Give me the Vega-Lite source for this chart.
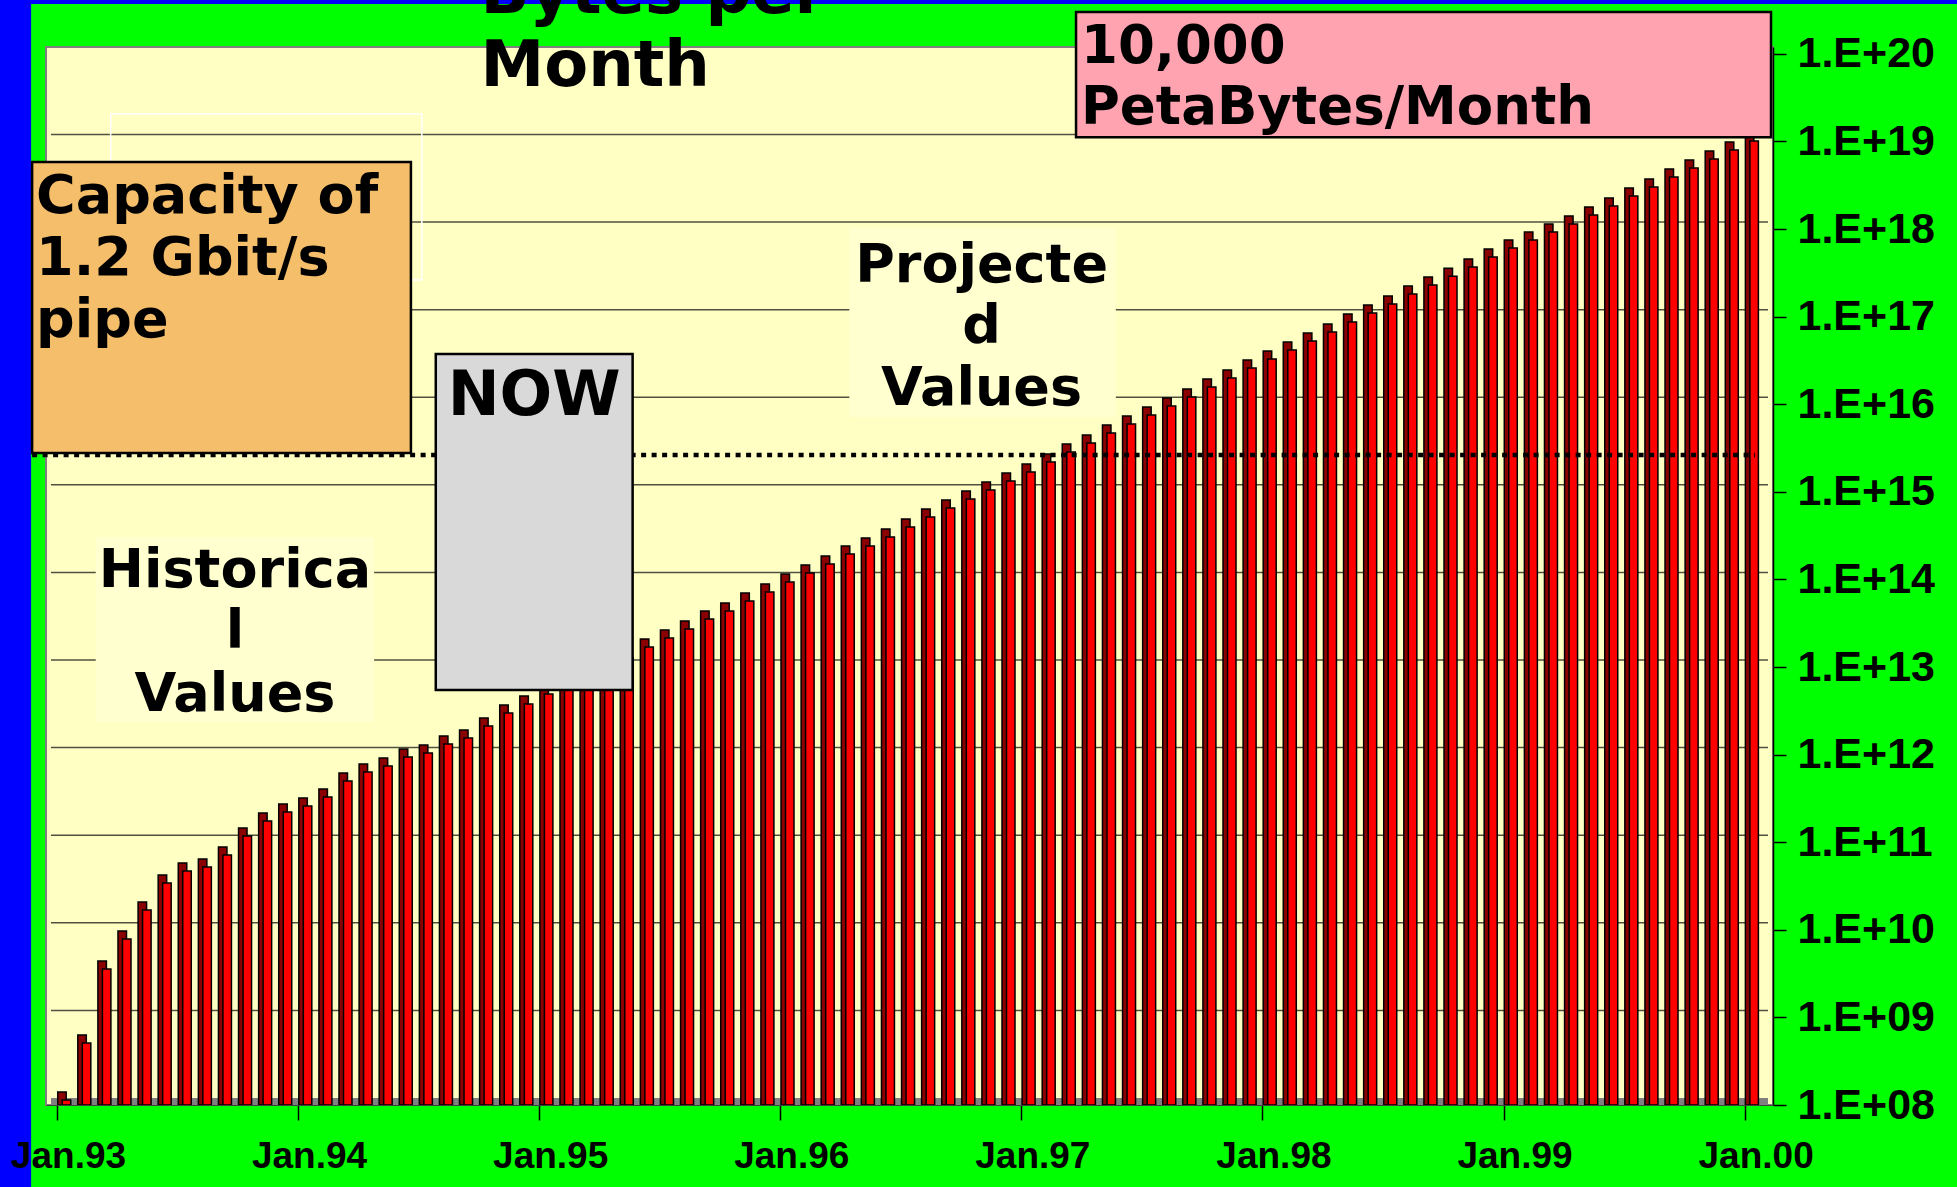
{
  "$schema": "https://vega.github.io/schema/vega-lite/v6.json",
  "width": 1727,
  "height": 1058,
  "autosize": {"type": "none"},
  "padding": {"left": 46, "top": 47, "right": 184, "bottom": 82},
  "background": "#00ff00",
  "config": {
    "view": {"fill": "#ffffc4", "stroke": "#808080", "strokeWidth": 2}
  },
  "datasets": {
    "bars": [
      {"month": "1993-01", "i": 0, "v": 1.14e8},
      {"month": "1993-02", "i": 1, "v": 5.1e8},
      {"month": "1993-03", "i": 2, "v": 3.57e9},
      {"month": "1993-04", "i": 3, "v": 7.85e9},
      {"month": "1993-05", "i": 4, "v": 1.68e10},
      {"month": "1993-06", "i": 5, "v": 3.42e10},
      {"month": "1993-07", "i": 6, "v": 4.69e10},
      {"month": "1993-08", "i": 7, "v": 5.21e10},
      {"month": "1993-09", "i": 8, "v": 7.14e10},
      {"month": "1993-10", "i": 9, "v": 1.18e11},
      {"month": "1993-11", "i": 10, "v": 1.75e11},
      {"month": "1993-12", "i": 11, "v": 2.21e11},
      {"month": "1994-01", "i": 12, "v": 2.59e11},
      {"month": "1994-02", "i": 13, "v": 3.28e11},
      {"month": "1994-03", "i": 14, "v": 5.0e11},
      {"month": "1994-04", "i": 15, "v": 6.33e11},
      {"month": "1994-05", "i": 16, "v": 7.41e11},
      {"month": "1994-06", "i": 17, "v": 9.39e11},
      {"month": "1994-07", "i": 18, "v": 1.04e12},
      {"month": "1994-08", "i": 19, "v": 1.32e12},
      {"month": "1994-09", "i": 20, "v": 1.55e12},
      {"month": "1994-10", "i": 21, "v": 2.12e12},
      {"month": "1994-11", "i": 22, "v": 2.99e12},
      {"month": "1994-12", "i": 23, "v": 3.78e12},
      {"month": "1995-01", "i": 24, "v": 4.92e12},
      {"month": "1995-02", "i": 25, "v": 6.23e12},
      {"month": "1995-03", "i": 26, "v": 7.89e12},
      {"month": "1995-04", "i": 27, "v": 1.0e13},
      {"month": "1995-05", "i": 28, "v": 1.27e13},
      {"month": "1995-06", "i": 29, "v": 1.69e13},
      {"month": "1995-07", "i": 30, "v": 2.14e13},
      {"month": "1995-08", "i": 31, "v": 2.72e13},
      {"month": "1995-09", "i": 32, "v": 3.53e13},
      {"month": "1995-10", "i": 33, "v": 4.36e13},
      {"month": "1995-11", "i": 34, "v": 5.66e13},
      {"month": "1995-12", "i": 35, "v": 7.18e13},
      {"month": "1996-01", "i": 36, "v": 9.34e13},
      {"month": "1996-02", "i": 37, "v": 1.18e14},
      {"month": "1996-03", "i": 38, "v": 1.5e14},
      {"month": "1996-04", "i": 39, "v": 1.95e14},
      {"month": "1996-05", "i": 40, "v": 2.4e14},
      {"month": "1996-06", "i": 41, "v": 3.05e14},
      {"month": "1996-07", "i": 42, "v": 3.96e14},
      {"month": "1996-08", "i": 43, "v": 5.15e14},
      {"month": "1996-09", "i": 44, "v": 6.53e14},
      {"month": "1996-10", "i": 45, "v": 8.28e14},
      {"month": "1996-11", "i": 46, "v": 1.05e15},
      {"month": "1996-12", "i": 47, "v": 1.33e15},
      {"month": "1997-01", "i": 48, "v": 1.68e15},
      {"month": "1997-02", "i": 49, "v": 2.19e15},
      {"month": "1997-03", "i": 50, "v": 2.84e15},
      {"month": "1997-04", "i": 51, "v": 3.61e15},
      {"month": "1997-05", "i": 52, "v": 4.69e15},
      {"month": "1997-06", "i": 53, "v": 5.94e15},
      {"month": "1997-07", "i": 54, "v": 7.53e15},
      {"month": "1997-08", "i": 55, "v": 9.53e15},
      {"month": "1997-09", "i": 56, "v": 1.21e16},
      {"month": "1997-10", "i": 57, "v": 1.57e16},
      {"month": "1997-11", "i": 58, "v": 1.99e16},
      {"month": "1997-12", "i": 59, "v": 2.59e16},
      {"month": "1998-01", "i": 60, "v": 3.28e16},
      {"month": "1998-02", "i": 61, "v": 4.16e16},
      {"month": "1998-03", "i": 62, "v": 5.26e16},
      {"month": "1998-04", "i": 63, "v": 6.67e16},
      {"month": "1998-05", "i": 64, "v": 8.67e16},
      {"month": "1998-06", "i": 65, "v": 1.1e17},
      {"month": "1998-07", "i": 66, "v": 1.39e17},
      {"month": "1998-08", "i": 67, "v": 1.81e17},
      {"month": "1998-09", "i": 68, "v": 2.3e17},
      {"month": "1998-10", "i": 69, "v": 2.9e17},
      {"month": "1998-11", "i": 70, "v": 3.68e17},
      {"month": "1998-12", "i": 71, "v": 4.79e17},
      {"month": "1999-01", "i": 72, "v": 6.07e17},
      {"month": "1999-02", "i": 73, "v": 7.48e17},
      {"month": "1999-03", "i": 74, "v": 9.25e17},
      {"month": "1999-04", "i": 75, "v": 1.14e18},
      {"month": "1999-05", "i": 76, "v": 1.45e18},
      {"month": "1999-06", "i": 77, "v": 1.83e18},
      {"month": "1999-07", "i": 78, "v": 2.38e18},
      {"month": "1999-08", "i": 79, "v": 3.01e18},
      {"month": "1999-09", "i": 80, "v": 3.93e18},
      {"month": "1999-10", "i": 81, "v": 4.97e18},
      {"month": "1999-11", "i": 82, "v": 6.3e18},
      {"month": "1999-12", "i": 83, "v": 7.98e18},
      {"month": "2000-01", "i": 84, "v": 1.01e19}
    ],
    "shapes": [
      {"kind": "edge", "i": -3, "i2": -1.287, "v": 1e7, "v2": 1e21},
      {"kind": "edge", "i": -3, "i2": 100, "v": 3.7e20, "v2": 1e21},
      {"kind": "floor", "i": -0.297, "i2": 85.163, "v": 1e8, "v2": 1.2e8},
      {"kind": "outline", "i": 2.672, "i2": 18.161, "v": 2.62e17, "v2": 2.06e19},
      {"kind": "capacity", "i": -1.237, "i2": 17.617, "v": 2.77e15, "v2": 5.82e18},
      {"kind": "now", "i": 18.854, "i2": 28.652, "v": 5.46e12, "v2": 3.74e16},
      {"kind": "pink", "i": 50.722, "i2": 85.313, "v": 1.12e19, "v2": 3.0e20},
      {"kind": "note", "i": 1.93, "i2": 15.786, "v": 2.36e12, "v2": 3.05e14},
      {"kind": "note", "i": 39.44, "i2": 52.702, "v": 7.14e15, "v2": 1.03e18}
    ],
    "grid": [
      {"i": -0.297, "i2": 85.163, "v": 1e9},
      {"i": -0.297, "i2": 85.163, "v": 1e10},
      {"i": -0.297, "i2": 85.163, "v": 1e11},
      {"i": -0.297, "i2": 85.163, "v": 1e12},
      {"i": -0.297, "i2": 85.163, "v": 1e13},
      {"i": -0.297, "i2": 85.163, "v": 1e14},
      {"i": -0.297, "i2": 85.163, "v": 1e15},
      {"i": -0.297, "i2": 85.163, "v": 1e16},
      {"i": -0.297, "i2": 85.163, "v": 1e17},
      {"i": -0.297, "i2": 85.163, "v": 1e18},
      {"i": -0.297, "i2": 85.163, "v": 1e19}
    ],
    "capline": [
      {"i": -1.237, "i2": 84.52, "v": 2.63e15}
    ],
    "texts": [
      {"g": "title", "t": "Bytes per", "i": 21.081, "v": 2.92e20},
      {"g": "title", "t": "Month", "i": 21.081, "v": 4.29e19},
      {"g": "cap", "t": "Capacity of", "i": -1.039, "v": 1.52e18},
      {"g": "cap", "t": "1.2 Gbit/s", "i": -1.039, "v": 2.99e17},
      {"g": "cap", "t": "pipe", "i": -1.039, "v": 5.85e16},
      {"g": "now", "t": "NOW", "i": 23.753, "v": 7.53e15},
      {"g": "pink", "t": "10,000", "i": 50.97, "v": 7.85e19},
      {"g": "pink", "t": "PetaBytes/Month", "i": 50.97, "v": 1.58e19},
      {"g": "note", "t": "Historica", "i": 8.858, "v": 8.19e13},
      {"g": "note", "t": "l", "i": 8.858, "v": 1.65e13},
      {"g": "note", "t": "Values", "i": 8.858, "v": 3.15e12},
      {"g": "note", "t": "Projecte", "i": 46.022, "v": 2.48e17},
      {"g": "note", "t": "d", "i": 46.022, "v": 5.0e16},
      {"g": "note", "t": "Values", "i": 46.022, "v": 9.79e15}
    ]
  },
  "encoding": {
    "x": {
      "field": "i", "type": "quantitative",
      "scale": {"domain": [-0.297, 85.163], "nice": false, "zero": false},
      "axis": {
        "title": null, "values": [0, 12, 24, 36, 48, 60, 72, 84],
        "labelExpr": "'Jan.' + slice('0' + ((93 + datum.value / 12) % 100), -2)",
        "labelFont": "Liberation Sans", "labelFontWeight": "bold", "labelFontSize": 37,
        "labelColor": "#000000", "labelOffset": 11, "labelPadding": 47, "labelBaseline": "alphabetic",
        "labelFlush": false, "labelOverlap": false, "labelBound": false,
        "tickSize": 15, "tickWidth": 1.5, "tickColor": "#000000",
        "domainColor": "#404040", "domainWidth": 1, "grid": false, "zindex": 1
      }
    },
    "y": {
      "field": "v", "type": "quantitative",
      "scale": {"type": "log", "domain": [100000000, 1.197e20], "nice": false},
      "axis": {
        "title": null, "orient": "right",
        "values": [1e8, 1e9, 1e10, 1e11, 1e12, 1e13, 1e14, 1e15, 1e16, 1e17, 1e18, 1e19, 1e20],
        "labelExpr": "'1.E+' + (round(log(datum.value) / LN10) < 10 ? '0' : '') + round(log(datum.value) / LN10)",
        "labelFont": "Liberation Sans", "labelFontWeight": "bold", "labelFontSize": 43,
        "labelColor": "#000000", "labelPadding": 11, "labelFlush": false, "labelOverlap": false, "labelBound": false,
        "tickSize": 13, "tickWidth": 1.5, "tickColor": "#000000",
        "domainColor": "#000000", "domainWidth": 1.5, "grid": false
      }
    }
  },
  "layer": [
    {
      "data": {"name": "shapes"},
      "transform": [{"filter": "datum.kind == 'edge'"}],
      "mark": {"type": "rect", "fill": "#0000ff", "strokeWidth": 0},
      "encoding": {"x2": {"field": "i2"}, "y2": {"field": "v2"}}
    },
    {
      "data": {"name": "shapes"},
      "transform": [{"filter": "datum.kind == 'floor'"}],
      "mark": {"type": "rect", "fill": "#808080", "strokeWidth": 0},
      "encoding": {"x2": {"field": "i2"}, "y2": {"field": "v2"}}
    },
    {
      "data": {"name": "grid"},
      "mark": {"type": "rule", "color": "#505040", "strokeWidth": 1.5, "yOffset": -7},
      "encoding": {"x2": {"field": "i2"}}
    },
    {
      "data": {"name": "bars"},
      "mark": {"type": "bar", "width": 8.5, "xOffset": 5, "yOffset": -8, "fill": "#8b0000", "stroke": "#000000", "strokeWidth": 1.5},
      "encoding": {"y2": {"datum": 100000000}}
    },
    {
      "data": {"name": "bars"},
      "mark": {"type": "bar", "width": 8.5, "xOffset": 9.5, "fill": "#ff0000", "stroke": "#000000", "strokeWidth": 1.5},
      "encoding": {"y2": {"datum": 100000000}}
    },
    {
      "data": {"name": "capline"},
      "mark": {"type": "rule", "color": "#000000", "strokeWidth": 4.5, "strokeDash": [5, 5.5]},
      "encoding": {"x2": {"field": "i2"}}
    },
    {
      "data": {"name": "shapes"},
      "transform": [{"filter": "datum.kind == 'outline'"}],
      "mark": {"type": "rect", "fillOpacity": 0, "stroke": "#ffffff", "strokeWidth": 1.5},
      "encoding": {"x2": {"field": "i2"}, "y2": {"field": "v2"}}
    },
    {
      "data": {"name": "shapes"},
      "transform": [{"filter": "datum.kind == 'note'"}],
      "mark": {"type": "rect", "fill": "#ffffd0", "strokeWidth": 0},
      "encoding": {"x2": {"field": "i2"}, "y2": {"field": "v2"}}
    },
    {
      "data": {"name": "shapes"},
      "transform": [{"filter": "datum.kind == 'capacity'"}],
      "mark": {"type": "rect", "fill": "#f4be6b", "stroke": "#000000", "strokeWidth": 2.5},
      "encoding": {"x2": {"field": "i2"}, "y2": {"field": "v2"}}
    },
    {
      "data": {"name": "shapes"},
      "transform": [{"filter": "datum.kind == 'now'"}],
      "mark": {"type": "rect", "fill": "#d9d9d9", "stroke": "#000000", "strokeWidth": 2.5},
      "encoding": {"x2": {"field": "i2"}, "y2": {"field": "v2"}}
    },
    {
      "data": {"name": "shapes"},
      "transform": [{"filter": "datum.kind == 'pink'"}],
      "mark": {"type": "rect", "fill": "#ffa3b1", "stroke": "#000000", "strokeWidth": 2.5},
      "encoding": {"x2": {"field": "i2"}, "y2": {"field": "v2"}}
    },
    {
      "data": {"name": "texts"},
      "transform": [{"filter": "datum.g == 'title'"}],
      "mark": {"type": "text", "font": "DejaVu Sans", "fontWeight": "bold", "fontSize": 64, "align": "left", "baseline": "alphabetic", "color": "#000000"},
      "encoding": {"text": {"field": "t"}}
    },
    {
      "data": {"name": "texts"},
      "transform": [{"filter": "datum.g == 'cap'"}],
      "mark": {"type": "text", "font": "DejaVu Sans", "fontWeight": "bold", "fontSize": 54, "align": "left", "baseline": "alphabetic", "color": "#000000"},
      "encoding": {"text": {"field": "t"}}
    },
    {
      "data": {"name": "texts"},
      "transform": [{"filter": "datum.g == 'now'"}],
      "mark": {"type": "text", "font": "DejaVu Sans", "fontWeight": "bold", "fontSize": 62, "align": "center", "baseline": "alphabetic", "color": "#000000"},
      "encoding": {"text": {"field": "t"}}
    },
    {
      "data": {"name": "texts"},
      "transform": [{"filter": "datum.g == 'pink'"}],
      "mark": {"type": "text", "font": "DejaVu Sans", "fontWeight": "bold", "fontSize": 53, "align": "left", "baseline": "alphabetic", "color": "#000000"},
      "encoding": {"text": {"field": "t"}}
    },
    {
      "data": {"name": "texts"},
      "transform": [{"filter": "datum.g == 'note'"}],
      "mark": {"type": "text", "font": "DejaVu Sans", "fontWeight": "bold", "fontSize": 54, "align": "center", "baseline": "alphabetic", "color": "#000000"},
      "encoding": {"text": {"field": "t"}}
    }
  ]
}
